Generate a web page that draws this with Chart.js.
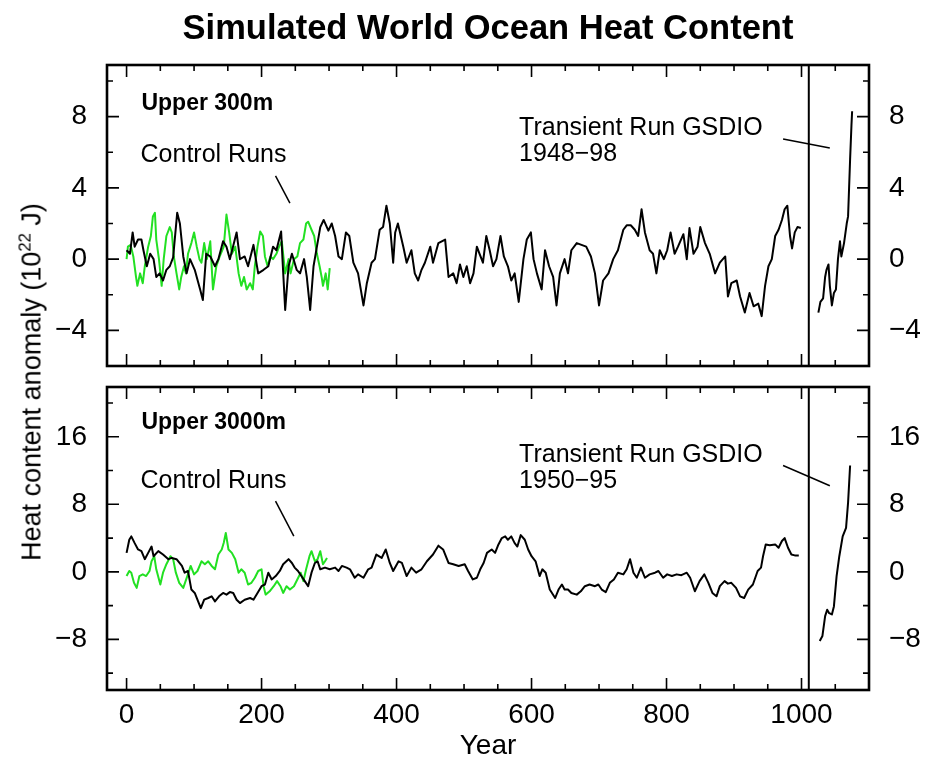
<!DOCTYPE html>
<html>
<head>
<meta charset="utf-8">
<script src="https://cdn.jsdelivr.net/npm/chart.js@4.4.1/dist/chart.umd.min.js"></script>
<style>
  body { margin: 0; background: #fff; }
  #wrap { position: relative; width: 926px; height: 768px; font-family: "Liberation Sans", Arial, sans-serif; color: #000; }
  #title { position: absolute; left: 107px; width: 762px; top: 10px; text-align: center; font-weight: bold; font-size: 34.5px; line-height: 34px; }
  #ylab { position: absolute; left: 32px; top: 382px; transform: translate(-50%, -50%) rotate(-90deg); white-space: nowrap; font-size: 27px; line-height: 27px; }
  #ylab sup { font-size: 0.62em; line-height: 0; }
  canvas { position: absolute; left: 0; }
</style>
</head>
<body>
<div id="wrap">
  <canvas id="upper" width="926" height="380" style="top:0"></canvas>
  <canvas id="deep" width="926" height="388" style="top:380px"></canvas>
  <div id="title">Simulated World Ocean Heat Content</div>
  <div id="ylab">Heat content anomaly (10<sup>22</sup> J)</div>
</div>
<script>
// ---- upper 300m ----
const ctrl300Years = [0,5,9,12,17,22,25,30,35,40,44,49,54,59,64,69,75,79,84,89,94,101,109,113,118,124,131,136,143,148,153,163,168,175,180,188,195,203,210,217,222,229,231,235,240,245,252,257,263,267,272,277,282,287,292,299,304,309,314,319,325,330,336,343,351,356,363,368,375,380,385,390,395,398,402,410,415,422,427,432,437,442,450,454,462,467,472,477,484,489,
  494,499,504,509,514,519,523,528,533,538,543,548,554,559,565,570,575,581,588,593,599,603,608,615,620,626,632,637,642,649,654,659,667,674,681,688,694,700,706,714,721,728,736,741,747,753,758,763,768,775,780,785,790,796,801,806,812,817,825,830,834,840,846,850,857,864,872,879,887,891,896,904,909,916,923,929,936,941,946,951,956,961,966,971,975,979,983,986,990,994,999];
const ctrl300Vals = [0.5,0.3,1.5,0.7,1.1,1.1,0.5,-0.4,0.3,0,-1.0,-0.8,-1.2,-0.6,-0.4,0.1,2.6,2.0,0.15,-0.8,0,-0.6,-1.7,-2.3,0.3,0.15,-0.4,0,1.0,0.7,0,1.5,0,0.15,-0.4,0.8,-0.8,-0.6,-0.4,0.7,0.5,1.55,0,-2.85,-0.4,0.3,-0.6,-0.8,0,-1.0,-2.85,-0.4,0.7,1.8,2.2,1.6,2.0,1.3,0.15,0,1.5,1.3,-0.2,-0.8,-2.6,-1.35,-0.2,0,1.65,1.8,3.0,2.0,-0.2,1.5,2.0,0.7,-0.2,0.5,-0.8,-1.2,-0.6,-0.2,0.7,-0.2,0.9,1.0,1.1,-1.0,-0.8,-1.35,
  -0.3,-1.0,-0.4,-1.35,-0.8,0.7,0.3,-0.2,1.3,0.5,-0.4,0,1.3,0.15,-0.4,-1.2,-0.8,-2.4,0,1.1,1.5,0,-0.8,-1.7,0.5,-0.4,-1.0,-2.6,-0.8,0,-0.8,0.5,0.9,0.8,0.7,0.15,-0.8,-2.6,-1.2,-0.8,0,0.5,1.65,1.9,1.9,1.65,1.3,2.8,1.5,0.5,0.3,-0.8,0.5,0,0.5,1.5,0.3,0.7,1.4,0,1.75,0.3,0.7,1.8,0.9,0.3,-0.8,-0.2,0.15,-2.1,-1.35,-1.2,-2.1,-3.0,-1.9,-2.65,-2.5,-3.2,-1.5,-0.4,0,1.3,1.65,2.2,2.8,3.0,1.3,0.6,1.5,1.8,1.75];
const green300Years = [0,2,6,10,14,16,20,24,27,32,36,39,42,44,48,52,55,59,64,67,70,74,78,81,85,88,91,96,100,104,108,111,115,119,124,128,133,138,144,148,152,156,161,166,170,174,178,183,187,190,194,198,202,205,209,213,217,222,226,230,235,240,243,248,253,257,262,266,269,274,278,282,286,289,291,295,298,301];
const green300Vals = [0,0.7,0.8,0.15,-1.0,-1.5,-0.8,-1.35,-0.4,0.7,1.3,2.4,2.6,1.1,0,-1.5,0,1.3,1.8,1.5,0.15,-0.8,-1.7,-1.0,-0.4,-0.8,0.3,0.9,1.5,0.7,0,-0.2,0.9,0,1.0,-1.7,-0.4,0.15,0.7,2.5,1.5,0.3,0.7,-0.8,-1.5,-1.0,-1.7,-1.35,-1.7,-0.4,0.7,1.55,1.3,0.15,-0.4,0.15,0,0.3,0.7,1.0,-0.8,0,-0.8,0,0.15,0.9,1.1,2.0,2.1,1.65,1.3,0.3,-0.4,-1.0,-1.5,-0.8,-1.7,-0.5];
const trans300Years = [1948,1951,1955,1958,1960,1963,1965,1968,1971,1974,1977,1980,1982,1986,1990,1992,1995,1997,1998];
const trans300Vals = [-3.0,-2.4,-2.2,-1.0,-0.6,-0.3,-1.5,-2.6,-1.9,-1.7,0,1.0,0.15,0.9,2.0,2.4,5.6,7.5,8.3];

// ---- upper 3000m ----
const ctrl3000Years = [0,4,7,12,17,22,27,32,37,40,47,54,62,67,74,82,86,91,96,101,106,110,115,121,126,131,137,143,148,153,158,163,168,175,183,188,194,200,205,210,215,221,227,232,240,245,249,254,259,264,269,274,279,283,287,294,301,309,314,319,326,331,338,343,351,358,363,370,378,384,390,395,403,408,415,422,429,437,445,454,462,469,477,484,492,
  501,506,513,519,524,529,534,541,546,551,556,561,565,570,575,579,584,590,595,600,606,612,616,621,627,635,640,645,649,654,659,667,673,679,686,694,699,704,710,716,722,728,736,741,746,751,756,762,768,775,783,788,795,801,808,815,822,830,835,842,849,856,862,868,874,879,886,891,896,903,909,915,921,928,935,940,943,947,953,961,966,971,975,980,985,990,996];
const ctrl3000Vals = [2.25,3.8,4.2,3.4,2.65,2.45,1.5,2.25,3.0,1.85,2.45,2.05,1.5,1.65,1.5,0.7,-0.1,0.1,-2.1,-2.5,-3.5,-4.3,-3.3,-3.1,-2.9,-3.5,-2.9,-2.5,-2.7,-2.4,-2.5,-3.3,-3.7,-3.3,-3.1,-3.3,-2.5,-1.7,-1.5,-0.1,-0.9,-0.5,0.1,0.9,1.5,1.05,0.5,0.1,-0.5,-1.1,-1.7,-0.1,1.05,1.25,0.3,0.5,0.3,0.5,0.1,0.7,0.5,0.3,-0.7,-0.3,-0.7,0.3,0.5,2.05,1.65,2.65,1.05,0.1,1.25,1.05,-0.5,0.5,-0.1,0.3,1.25,2.05,3.1,2.65,1.05,0.9,0.7,
  0.9,0.1,-0.9,-0.7,0.3,1.05,2.25,2.65,2.25,3.25,4.0,4.2,3.8,4.2,3.4,3.0,4.35,3.8,2.65,1.85,1.25,-0.5,0.3,-0.1,-2.1,-3.1,-2.1,-1.5,-2.1,-2.1,-2.5,-2.7,-2.3,-1.7,-1.5,-1.7,-1.5,-2.1,-2.4,-1.3,-0.9,-0.1,-0.3,0.3,1.5,-0.1,-0.7,0.5,-0.7,-0.3,-0.1,0.1,-0.7,-0.3,-0.5,-0.3,-0.4,-0.1,-0.7,-2.3,-1.1,-0.3,-1.3,-2.5,-2.9,-1.7,-1.1,-1.4,-1.3,-1.9,-2.9,-3.1,-2.1,-1.5,0.1,0.5,1.85,3.25,3.15,3.25,2.85,3.65,4.0,2.85,2.05,1.95,1.95];
const green3000Years = [0,4,7,11,15,19,24,29,34,37,41,44,50,54,59,65,69,73,78,84,90,95,100,105,111,116,121,126,131,136,141,144,147,151,156,161,166,170,175,180,185,190,195,200,203,206,212,218,223,228,232,237,242,248,253,258,262,266,271,274,279,283,287,291,294,297];
const green3000Vals = [-0.5,0.1,-0.1,-1.3,-1.9,-0.5,-0.3,-0.5,0.1,1.25,1.85,0.3,-1.5,-0.1,0.9,1.85,1.5,-0.1,-1.3,-1.9,-0.5,0.7,-0.3,0.1,1.25,0.9,1.25,0.7,0.3,2.05,2.65,3.45,4.6,2.65,2.25,1.5,-0.1,0.3,-0.1,-1.5,-1.3,-0.7,0.1,0.3,-1.7,-2.7,-2.3,-1.7,-1.1,-1.7,-2.5,-1.7,-2.1,-1.7,-0.9,-0.1,-1.1,0.3,1.85,2.45,1.25,1.5,2.45,0.9,1.25,1.65];
const trans3000Years = [1950,1954,1958,1961,1964,1968,1971,1975,1979,1984,1989,1992,1995];
const trans3000Vals = [-8.2,-7.6,-5.25,-4.5,-4.9,-5.05,-4.1,-0.5,1.85,4.2,5.2,8.2,12.6];

// transient runs are drawn to the right of the divider: calendar year - 923
const transShift = 923;
const dividerAt = 1010.8;
const xMin = -29, xMax = 1100;

const minus = v => v < 0 ? '\u2212' + Math.abs(v) : String(v);
const pts = (xs, ys, shift) => xs.map((x, i) => ({x: x - (shift || 0), y: ys[i]}));

Chart.defaults.font.family = '"Liberation Sans", Arial, sans-serif';
Chart.defaults.color = '#000';

const frameAndNotes = {
  id: 'frameAndNotes',
  afterDatasetsDraw(chart, args, o) {
    const ctx = chart.ctx, a = chart.chartArea;
    const xs = chart.scales.x, ys = chart.scales.y;
    ctx.save();
    ctx.strokeStyle = '#000';
    ctx.fillStyle = '#000';
    ctx.lineCap = 'butt';

    // divider between control and transient runs
    ctx.lineWidth = 2;
    const dx = xs.getPixelForValue(o.divider);
    ctx.beginPath(); ctx.moveTo(dx, a.top); ctx.lineTo(dx, a.bottom); ctx.stroke();

    // inward ticks on all four sides
    ctx.lineWidth = 1.6;
    xs.ticks.forEach(t => {
      if (t.value <= xs.min || t.value >= xs.max) return;
      const p = xs.getPixelForValue(t.value);
      const len = t.value % 200 === 0 ? 12 : 6;
      ctx.beginPath();
      ctx.moveTo(p, a.bottom); ctx.lineTo(p, a.bottom - len);
      ctx.moveTo(p, a.top); ctx.lineTo(p, a.top + len);
      ctx.stroke();
    });
    ys.ticks.forEach(t => {
      if (t.value <= ys.min || t.value >= ys.max) return;
      const p = ys.getPixelForValue(t.value);
      const len = t.value % o.yMajor === 0 ? 12 : 6;
      ctx.beginPath();
      ctx.moveTo(a.left, p); ctx.lineTo(a.left + len, p);
      ctx.moveTo(a.right, p); ctx.lineTo(a.right - len, p);
      ctx.stroke();
    });

    // frame
    ctx.lineWidth = 2.6;
    ctx.strokeRect(a.left, a.top, a.right - a.left, a.bottom - a.top);

    // labels and pointers
    const px = v => xs.getPixelForValue(v[0]);
    const py = v => ys.getPixelForValue(v[1]);
    ctx.textBaseline = 'alphabetic';
    ctx.textAlign = 'left';
    ctx.font = 'bold 23px "Liberation Sans", Arial, sans-serif';
    ctx.fillText(o.label, px(o.labelAt), py(o.labelAt));
    ctx.font = '25px "Liberation Sans", Arial, sans-serif';
    ctx.fillText('Control Runs', px(o.ctrlAt), py(o.ctrlAt));
    o.transLines.forEach((s, i) => ctx.fillText(s, px(o.transAt), py(o.transAt) + i * 26));
    ctx.lineWidth = 1.5;
    [o.ctrlPtr, o.transPtr].forEach(p => {
      ctx.beginPath();
      ctx.moveTo(px(p[0]), py(p[0]));
      ctx.lineTo(px(p[1]), py(p[1]));
      ctx.stroke();
    });
    ctx.restore();
  }
};

function makePanel(canvasId, sets, yMin, yMax, yStep, yMajor, bottomPanel, notes) {
  const yTicks = {
    stepSize: yStep,
    autoSkip: false,
    includeBounds: false,
    font: {size: 28},
    padding: 20,
    callback: v => v % yMajor === 0 ? minus(v) : ''
  };
  // keep the plot box where the reference has it
  const fitY = w => s => { s.width = w; s.paddingTop = 0; s.paddingBottom = 0; };
  return new Chart(document.getElementById(canvasId), {
    type: 'line',
    data: {
      datasets: [
        {data: pts(sets[0], sets[1]), borderColor: '#000', borderWidth: 2},
        {data: pts(sets[2], sets[3]), borderColor: '#22e022', borderWidth: 2},
        {data: pts(sets[4], sets[5], transShift), borderColor: '#000', borderWidth: 2}
      ]
    },
    options: {
      responsive: false,
      animation: false,
      events: [],
      elements: {point: {radius: 0}, line: {tension: 0, borderJoinStyle: 'round'}},
      layout: {padding: {top: bottomPanel ? 7 : 65, left: 0, right: 0, bottom: 0}},
      plugins: {legend: {display: false}, tooltip: {enabled: false}, frameAndNotes: notes},
      scales: {
        x: {
          type: 'linear', position: 'bottom', min: xMin, max: xMax,
          grid: {display: false, drawTicks: false}, border: {display: false},
          ticks: {
            display: bottomPanel, stepSize: 50, autoSkip: false, includeBounds: false, maxRotation: 0,
            font: {size: 28}, padding: 8,
            callback: v => (v % 200 === 0 && v >= 0 && v <= 1000) ? String(v) : ''
          },
          title: {display: bottomPanel, text: 'Year', font: {size: 28}, padding: {top: 0, bottom: 5}},
          afterFit: s => { s.height = bottomPanel ? 78 : 14; s.paddingLeft = 0; s.paddingRight = 0; }
        },
        y: {
          type: 'linear', position: 'left', min: yMin, max: yMax,
          grid: {display: false, drawTicks: false}, border: {display: false},
          ticks: yTicks,
          afterFit: fitY(107)
        },
        yRight: {
          type: 'linear', position: 'right', min: yMin, max: yMax,
          grid: {display: false, drawTicks: false}, border: {display: false},
          ticks: yTicks,
          afterFit: fitY(57)
        }
      }
    },
    plugins: [frameAndNotes]
  });
}

makePanel('upper',
  [ctrl300Years, ctrl300Vals, green300Years, green300Vals, trans300Years, trans300Vals],
  -6, 10.9, 2, 4, false,
  {
    divider: dividerAt, yMajor: 4, label: 'Upper 300m',
    labelAt: [22, 8.4], ctrlAt: [20.7, 5.48],
    ctrlPtr: [[220.7, 4.68], [242, 3.15]],
    transAt: [581.6, 6.98], transLines: ['Transient Run GSDIO', '1948\u221298'],
    transPtr: [[972.7, 6.74], [1041.9, 6.24]]
  });

makePanel('deep',
  [ctrl3000Years, ctrl3000Vals, green3000Years, green3000Vals, trans3000Years, trans3000Vals],
  -14, 21.9, 4, 8, true,
  {
    divider: dividerAt, yMajor: 8, label: 'Upper 3000m',
    labelAt: [22, 16.96], ctrlAt: [20.7, 9.96],
    ctrlPtr: [[220.7, 8.37], [247.8, 4.22]],
    transAt: [581.6, 13.0], transLines: ['Transient Run GSDIO', '1950\u221295'],
    transPtr: [[972.7, 12.6], [1042, 10.2]]
  });
</script>
</body>
</html>
